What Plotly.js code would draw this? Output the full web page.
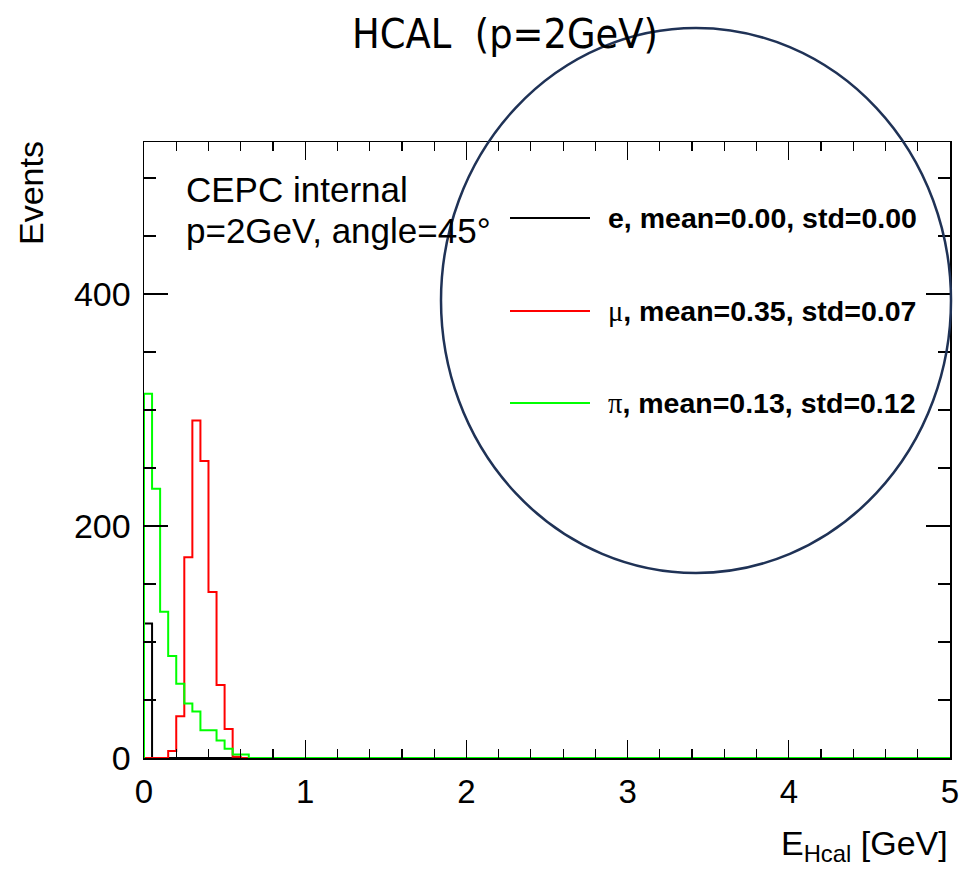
<!DOCTYPE html>
<html>
<head>
<meta charset="utf-8">
<script src="https://cdn.plot.ly/plotly-3.0.1.min.js"></script>
<style>html,body{margin:0;padding:0;background:#fff;}#chart{width:961px;height:869px;}</style>
</head>
<body>
<div id="chart"></div>
<script>
// Histogram binning (GeV)
const binWidth = 0.05;
const xMin = 0, xMax = 5;
// Bin contents starting at E = 0 (remaining bins up to 5 GeV are empty)
const countsE   = [116];
const countsMu  = [0, 0, 0, 6, 36, 173, 291, 256, 143, 63, 25, 1];
const countsPi  = [314, 232, 126, 88, 64, 47, 40, 24, 24, 15, 8, 3, 3];
const legendLabels = [
  '<b>e, mean=0.00, std=0.00</b>',
  '<span style="font-family:\'Liberation Serif\';font-weight:normal">μ</span><b>, mean=0.35, std=0.07</b>',
  '<span style="font-family:\'Liberation Serif\';font-weight:normal">π</span><b>, mean=0.13, std=0.12</b>'
];
const colors = ['#000000', '#ff0000', '#00ff00'];

function stepTrace(counts, color) {
  const x = [xMin], y = [0];
  counts.forEach((c, i) => { x.push(xMin + i * binWidth); y.push(c); });
  x.push(xMin + counts.length * binWidth); y.push(0);
  x.push(xMax); y.push(0);
  return {x: x, y: y, type: 'scatter', mode: 'lines', line: {shape: 'hv', color: color, width: 2},
          showlegend: false, hoverinfo: 'skip', cliponaxis: true};
}

const traces = [stepTrace(countsE, colors[0]), stepTrace(countsMu, colors[1]), stepTrace(countsPi, colors[2])];

const L = 144, R = 11, T = 142, B = 111, W = 961, H = 869;
const pw = W - L - R, ph = H - T - B;
const px = v => (v - L) / pw;
const py = v => (H - B - v) / ph;

const font = 'Liberation Sans, Arial, sans-serif';
const shapes = [];
const annotations = [];
const legY = [218, 311, 403];
legY.forEach((yy, i) => {
  shapes.push({type: 'line', xref: 'paper', yref: 'paper', x0: px(510), x1: px(590), y0: py(yy), y1: py(yy),
               line: {color: colors[i], width: 2}});
  annotations.push({xref: 'paper', yref: 'paper', x: px(606), y: py(yy), xanchor: 'left', yanchor: 'middle',
                    text: legendLabels[i], showarrow: false, font: {family: font, size: 28.5, color: '#000'}});
});
// ellipse annotation
shapes.push({type: 'circle', xref: 'paper', yref: 'paper', x0: px(441), x1: px(951), y0: py(573), y1: py(28),
             line: {color: '#1f3256', width: 2.5}, layer: 'above'});

annotations.push({xref: 'paper', yref: 'paper', x: px(184), y: py(189), xanchor: 'left', yanchor: 'middle',
                  text: 'CEPC internal', showarrow: false, font: {family: font, size: 35, color: '#000'}});
annotations.push({xref: 'paper', yref: 'paper', x: px(184), y: py(231), xanchor: 'left', yanchor: 'middle',
                  text: 'p=2GeV, angle=45°', showarrow: false, font: {family: font, size: 35, color: '#000'}});
annotations.push({xref: 'paper', yref: 'paper', x: px(31), y: py(139), xanchor: 'center', yanchor: 'top',
                  text: 'Events', textangle: -90, showarrow: false, font: {family: font, size: 34, color: '#000'}});
annotations.push({xref: 'paper', yref: 'paper', x: 1, y: py(845), xanchor: 'right', yanchor: 'middle',
                  text: 'E<sub>Hcal</sub> [GeV]', showarrow: false, font: {family: font, size: 34, color: '#000'}});

const layout = {
  width: W, height: H,
  margin: {l: L, r: R, t: T, b: B, pad: 0},
  paper_bgcolor: '#fff', plot_bgcolor: '#fff',
  title: {text: 'HCAL  (p=2GeV)', x: 505 / W, xref: 'container', xanchor: 'center',
          y: 1 - 34 / H, yref: 'container', yanchor: 'middle',
          font: {family: 'DejaVu Sans Condensed, DejaVu Sans, sans-serif', size: 41, color: '#000'}},
  xaxis: {range: [xMin, xMax], dtick: 1, tick0: 0, ticks: 'inside', ticklen: 18, tickwidth: 1.2, tickcolor: '#000',
          showline: true, linecolor: '#000', linewidth: 1.5, mirror: 'ticks', showgrid: false, zeroline: false,
          tickfont: {family: font, size: 33, color: '#000'}, ticklabelstandoff: 4,
          minor: {dtick: 0.2, ticks: 'inside', ticklen: 9, tickcolor: '#000', tickwidth: 1.2, showgrid: false}},
  yaxis: {range: [0, 531], dtick: 200, tick0: 0, ticks: 'inside', ticklen: 24, tickwidth: 1.2, tickcolor: '#000',
          showline: true, linecolor: '#000', linewidth: 1.5, mirror: 'ticks', showgrid: false, zeroline: false,
          tickfont: {family: font, size: 34, color: '#000'}, ticklabelstandoff: 5,
          minor: {dtick: 50, ticks: 'inside', ticklen: 12, tickcolor: '#000', tickwidth: 1.2, showgrid: false}},
  shapes: shapes,
  annotations: annotations,
  showlegend: false
};

Plotly.newPlot('chart', traces, layout, {displayModeBar: false, staticPlot: true});
</script>
</body>
</html>
